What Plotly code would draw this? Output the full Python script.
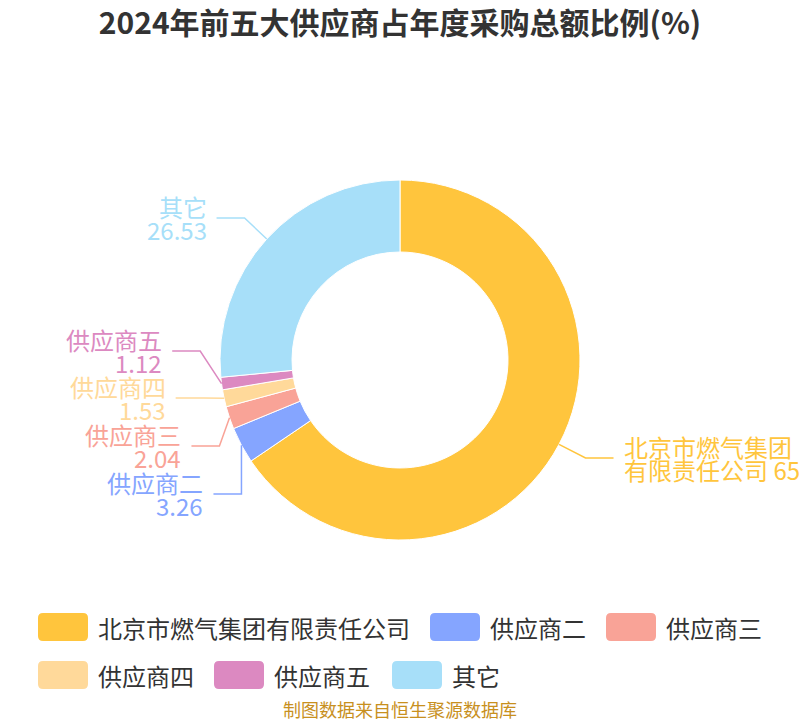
import math

import plotly.graph_objects as go

TITLE = "2024年前五大供应商占年度采购总额比例(%)"
SOURCE = "制图数据来自恒生聚源数据库"

suppliers = ["北京市燃气集团有限责任公司", "供应商二", "供应商三", "供应商四", "供应商五", "其它"]
shares = [65.52, 3.26, 2.04, 1.53, 1.12, 26.53]

COLORS = ["#FFC53D", "#85A5FF", "#F9A397", "#FFD99A", "#DC89C1", "#A7DFF9"]
FONT = "Noto Sans CJK SC, Noto Sans, sans-serif"

W, H = 800, 720
CX, CY, R = 400, 360, 180
HOLE = 0.6
# label anchor rows (pixels), as placed after overlap avoidance
LABEL_Y = [458, 494, 446, 398, 351, 218]
L1, L2, TEXT_GAP = 30, 28, 9
LEGEND_POS = [(38, 627), (430, 627), (606, 627), (38, 675), (214, 675), (392, 675)]


def px(x):
    return x / W


def py(y):
    return 1 - y / H


def label_lines(name, value):
    val = f"{value:g}"
    if len(name) > 7:
        return [name[:7], name[7:] + " " + val]
    return [name, val]


fig = go.Figure(
    go.Pie(
        labels=suppliers,
        values=shares,
        hole=HOLE,
        sort=False,
        direction="clockwise",
        rotation=0,
        textinfo="none",
        hoverinfo="label+value",
        marker=dict(colors=COLORS, line=dict(color="#FFFFFF", width=1)),
        domain=dict(x=[px(CX - R), px(CX + R)], y=[py(CY + R), py(CY - R)]),
        showlegend=False,
    )
)

shapes = []
annotations = []
total = sum(shares)
cum = 0.0
for name, value, color, ly in zip(suppliers, shares, COLORS, LABEL_Y):
    mid = (cum + value / 2) / total * 2 * math.pi
    cum += value
    dx, dy = math.sin(mid), -math.cos(mid)
    side = 1 if dx >= 0 else -1
    ex, ey = CX + R * dx, CY + R * dy
    nx, ny = ex + L1 * dx, ey + L1 * dy
    if abs(ly - ny) <= 3:
        bx = nx
    else:
        rl = R + 20
        bx = CX + side * math.sqrt(max(rl**2 - (ly - CY) ** 2, 0))
        bx = min(bx, ex) if side < 0 else max(bx, ex)
    tx = bx + side * L2
    shapes.append(
        dict(
            type="path",
            xref="paper",
            yref="paper",
            path=f"M {px(ex)},{py(ey)} L {px(bx)},{py(ly)} L {px(tx)},{py(ly)}",
            line=dict(color=color, width=1.5),
        )
    )
    lines = label_lines(name, value)
    for i, text in enumerate(lines):
        annotations.append(
            dict(
                x=px(tx + side * TEXT_GAP),
                y=py(ly + (i - 0.5) * 23),
                xref="paper",
                yref="paper",
                text=text,
                showarrow=False,
                borderpad=0,
                xanchor="left" if side > 0 else "right",
                yanchor="middle",
                font=dict(family=FONT, size=24, color=color),
            )
        )

# custom legend with rounded swatches
for name, color, (lx, ly) in zip(suppliers, COLORS, LEGEND_POS):
    x0, x1, y0, y1, r = lx, lx + 50, ly - 14, ly + 14, 5
    path = (
        f"M {px(x0 + r)},{py(y0)} L {px(x1 - r)},{py(y0)} Q {px(x1)},{py(y0)} {px(x1)},{py(y0 + r)} "
        f"L {px(x1)},{py(y1 - r)} Q {px(x1)},{py(y1)} {px(x1 - r)},{py(y1)} "
        f"L {px(x0 + r)},{py(y1)} Q {px(x0)},{py(y1)} {px(x0)},{py(y1 - r)} "
        f"L {px(x0)},{py(y0 + r)} Q {px(x0)},{py(y0)} {px(x0 + r)},{py(y0)} Z"
    )
    shapes.append(
        dict(type="path", xref="paper", yref="paper", path=path,
             fillcolor=color, line=dict(width=0))
    )
    annotations.append(
        dict(
            x=px(lx + 58),
            y=py(ly),
            xref="paper",
            yref="paper",
            text=name,
            showarrow=False,
            xanchor="left",
            yanchor="middle",
            font=dict(family=FONT, size=24, color="#333333"),
        )
    )

annotations.append(
    dict(
        x=0.5,
        y=py(709),
        xref="paper",
        yref="paper",
        text=SOURCE,
        showarrow=False,
        borderpad=0,
        xanchor="center",
        yanchor="middle",
        font=dict(family=FONT, size=18, color="#C8901E"),
    )
)

fig.update_layout(
    width=W,
    height=H,
    margin=dict(l=0, r=0, t=0, b=0),
    paper_bgcolor="#FFFFFF",
    plot_bgcolor="#FFFFFF",
    title=dict(
        text=f"<b>{TITLE}</b>",
        x=0.5,
        xanchor="center",
        y=py(23),
        yanchor="middle",
        font=dict(family=FONT, size=30, color="#333333"),
    ),
    shapes=shapes,
    annotations=annotations,
)

# drop the browser's default body margin so the 800x720 figure fills the window
fig.write_html(
    "out.html",
    config={"displayModeBar": False},
    post_script="document.body.style.margin='0';",
)
